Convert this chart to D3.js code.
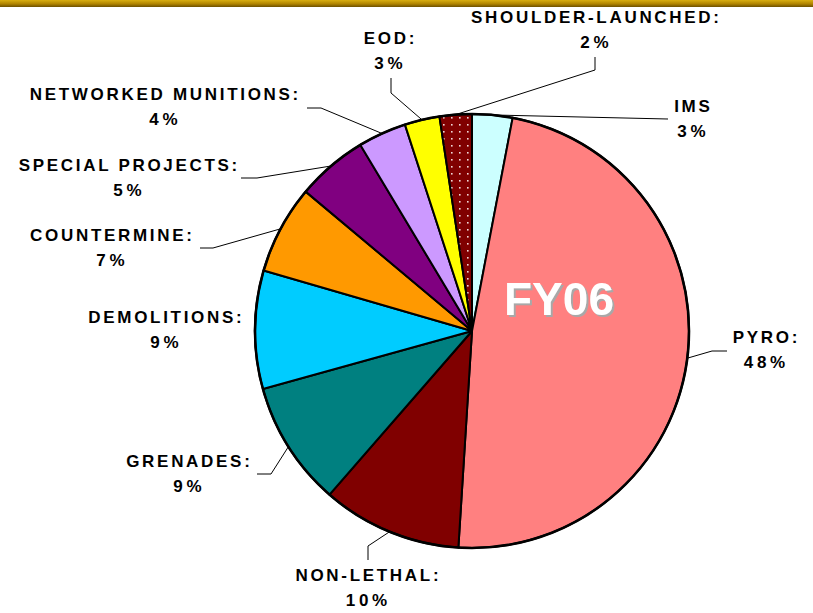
<!DOCTYPE html>
<html>
<head>
<meta charset="utf-8">
<script src="https://cdn.jsdelivr.net/npm/d3@7/dist/d3.min.js"></script>
<style>
  html, body { margin: 0; padding: 0; background: #ffffff; }
  svg { display: block; }
</style>
</head>
<body>
<svg id="chart" width="813" height="613"></svg>
<script>
// ---- data ----
const categories = ["IMS", "PYRO", "NON-LETHAL", "GRENADES", "DEMOLITIONS", "COUNTERMINE",
                    "SPECIAL PROJECTS", "NETWORKED MUNITIONS", "EOD", "SHOULDER-LAUNCHED"];
const values = [3.0, 48.0, 10.4, 9.3, 8.8, 6.6, 5.3, 3.6, 2.6, 2.4];
const percentLabels = ["3%", "48%", "10%", "9%", "9%", "7%", "5%", "4%", "3%", "2%"];
const nameLabels = ["IMS", "PYRO:", "NON-LETHAL:", "GRENADES:", "DEMOLITIONS:", "COUNTERMINE:",
                    "SPECIAL PROJECTS:", "NETWORKED MUNITIONS:", "EOD:", "SHOULDER-LAUNCHED:"];
const chartTitle = "FY06";

// ---- styles / layout ----
const colors = ["#CCFFFF", "#FF8080", "#800000", "#008080", "#00CCFF", "#FF9900",
                "#800080", "#CC99FF", "#FFFF00", "url(#dots)"];
const cx = 472, cy = 331, R = 217;
// label block centre x, first-line baseline y, and leader elbow / end points
const labelLayout = [
  { x: 692, y: 112, elbow: [668, 119], end: [668, 119] },
  { x: 765, y: 343, elbow: [712, 351], end: [727, 351] },
  { x: 367, y: 581, elbow: [368, 546], end: [368, 560] },
  { x: 188, y: 467, elbow: [271, 474], end: [257, 474] },
  { x: 165, y: 323, elbow: null, end: null },
  { x: 111, y: 241, elbow: [213, 248], end: [200, 248] },
  { x: 128, y: 171, elbow: [257, 178], end: [241, 178] },
  { x: 164, y: 100, elbow: [321, 108], end: [307, 108] },
  { x: 389, y: 44,  elbow: [391, 93],  end: [391, 78] },
  { x: 595, y: 23,  elbow: [595, 70],  end: [595, 57] }
];
const lineGap = 25;
const font = "'Liberation Sans', Arial, Helvetica, sans-serif";

const svg = d3.select("#chart");
const defs = svg.append("defs");

// top gold bar gradient
const grad = defs.append("linearGradient").attr("id", "topbar")
  .attr("x1", 0).attr("y1", 0).attr("x2", 0).attr("y2", 1);
grad.append("stop").attr("offset", "0%").attr("stop-color", "#D9AE10");
grad.append("stop").attr("offset", "55%").attr("stop-color", "#B08400");
grad.append("stop").attr("offset", "100%").attr("stop-color", "#6E5000");
svg.append("rect").attr("x", 0).attr("y", 0).attr("width", 813).attr("height", 7)
  .attr("fill", "url(#topbar)");

// dotted pattern
const pat = defs.append("pattern").attr("id", "dots").attr("patternUnits", "userSpaceOnUse")
  .attr("width", 8).attr("height", 7);
pat.append("rect").attr("width", 8).attr("height", 7).attr("fill", "#800000");
pat.append("rect").attr("x", 3).attr("y", 3).attr("width", 1.6).attr("height", 1.6).attr("fill", "#F0D8D8");

// drop shadow for the title
const filt = defs.append("filter").attr("id", "shadow")
  .attr("x", "-10%").attr("y", "-10%").attr("width", "130%").attr("height", "140%");
filt.append("feDropShadow").attr("dx", 2).attr("dy", 2).attr("stdDeviation", 0.4)
  .attr("flood-color", "#A8A8A8").attr("flood-opacity", 1);

const data = categories.map((c, i) => ({ name: c, value: values[i], i }));
const pie = d3.pie().value(d => d.value).sort(null).startAngle(0).endAngle(2 * Math.PI);
const arcs = pie(data);
const arc = d3.arc().innerRadius(0).outerRadius(R);

const g = svg.append("g").attr("transform", `translate(${cx},${cy})`);
g.selectAll("path.slice").data(arcs).enter().append("path")
  .attr("class", "slice")
  .attr("d", arc)
  .attr("fill", d => colors[d.data.i])
  .attr("stroke", "#000")
  .attr("stroke-width", 2)
  .attr("stroke-linejoin", "round");
g.append("circle").attr("r", R).attr("fill", "none").attr("stroke", "#000").attr("stroke-width", 2.6);

// leader lines
const leaders = svg.append("g");
arcs.forEach(a => {
  const L = labelLayout[a.data.i];
  if (!L.elbow) return;
  const mid = (a.startAngle + a.endAngle) / 2;
  const px = cx + R * Math.sin(mid), py = cy - R * Math.cos(mid);
  leaders.append("path")
    .attr("d", d3.line()([[px, py], L.elbow, L.end]))
    .attr("fill", "none").attr("stroke", "#000").attr("stroke-width", 1);
});

// labels
const spacing = 2.7;
const lbl = svg.append("g").attr("font-family", font).attr("font-weight", "bold")
  .attr("font-size", 17).attr("fill", "#000").attr("text-anchor", "middle");
data.forEach(d => {
  const L = labelLayout[d.i];
  lbl.append("text").attr("x", L.x + spacing / 2).attr("y", L.y)
    .attr("letter-spacing", spacing).text(nameLabels[d.i]);
  lbl.append("text").attr("x", L.x + spacing / 2).attr("y", L.y + lineGap)
    .attr("letter-spacing", spacing + 1).text(percentLabels[d.i]);
});

// FY06 title with shadow
svg.append("text").attr("x", 559).attr("y", 315).attr("text-anchor", "middle")
  .attr("font-family", font).attr("font-weight", "bold").attr("font-size", 46)
  .attr("fill", "#FFFFFF").attr("filter", "url(#shadow)").text(chartTitle);
</script>
</body>
</html>
